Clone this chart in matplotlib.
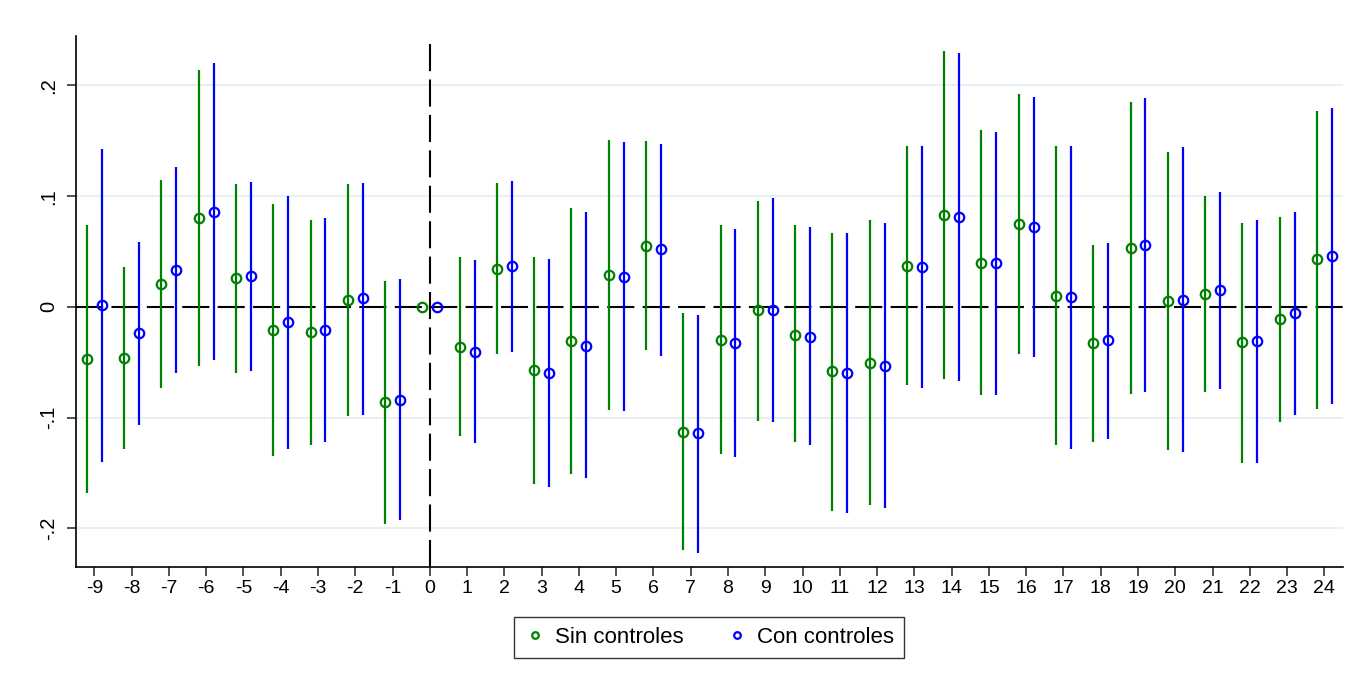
import numpy as np
import matplotlib
matplotlib.use("Agg")
import matplotlib.pyplot as plt

plt.rcParams['font.family'] = ['Liberation Sans', 'DejaVu Sans']

# periodos relativos al evento
periodos = list(range(-9, 25))

# Sin controles: coeficiente, IC inferior, IC superior
sin_coef = [-0.047, -0.046, 0.021, 0.080, 0.026, -0.021, -0.023, 0.006, -0.086, 0.0,
            -0.036, 0.034, -0.057, -0.031, 0.029, 0.055, -0.113, -0.030, -0.003, -0.025,
            -0.058, -0.051, 0.037, 0.083, 0.040, 0.075, 0.010, -0.033, 0.053, 0.005,
            0.012, -0.032, -0.011, 0.043]
sin_lo = [-0.168, -0.128, -0.073, -0.053, -0.060, -0.135, -0.125, -0.099, -0.196, 0.0,
          -0.117, -0.043, -0.160, -0.151, -0.093, -0.039, -0.220, -0.133, -0.103, -0.122,
          -0.184, -0.179, -0.071, -0.065, -0.080, -0.043, -0.125, -0.122, -0.079, -0.129,
          -0.077, -0.141, -0.104, -0.092]
sin_hi = [0.074, 0.036, 0.115, 0.214, 0.111, 0.093, 0.078, 0.111, 0.023, 0.0,
          0.045, 0.112, 0.045, 0.089, 0.151, 0.150, -0.006, 0.074, 0.096, 0.074,
          0.067, 0.078, 0.145, 0.231, 0.160, 0.192, 0.145, 0.056, 0.185, 0.140,
          0.100, 0.076, 0.081, 0.177]

# Con controles
con_coef = [0.002, -0.024, 0.033, 0.086, 0.028, -0.014, -0.021, 0.008, -0.084, 0.0,
            -0.041, 0.037, -0.060, -0.035, 0.027, 0.052, -0.114, -0.033, -0.003, -0.027,
            -0.060, -0.053, 0.036, 0.081, 0.040, 0.072, 0.009, -0.030, 0.056, 0.006,
            0.015, -0.031, -0.006, 0.046]
con_lo = [-0.140, -0.107, -0.060, -0.048, -0.058, -0.128, -0.122, -0.098, -0.193, 0.0,
          -0.123, -0.041, -0.163, -0.155, -0.094, -0.044, -0.222, -0.136, -0.104, -0.125,
          -0.186, -0.182, -0.073, -0.067, -0.080, -0.045, -0.128, -0.119, -0.077, -0.131,
          -0.074, -0.141, -0.098, -0.088]
con_hi = [0.143, 0.059, 0.126, 0.220, 0.113, 0.100, 0.080, 0.112, 0.025, 0.0,
          0.042, 0.114, 0.043, 0.086, 0.149, 0.147, -0.007, 0.070, 0.098, 0.072,
          0.067, 0.076, 0.145, 0.229, 0.158, 0.190, 0.145, 0.058, 0.189, 0.144,
          0.104, 0.078, 0.086, 0.180]

y_ticks = [-0.2, -0.1, 0.0, 0.1, 0.2]
y_labels = ["-.2", "-.1", "0", ".1", ".2"]

verde = "#008000"
azul = "#0000ff"

fig = plt.figure(figsize=(13.61, 6.85), dpi=100)
ax = fig.add_axes([0.0556, 0.1723, 0.9312, 0.7757])

x = np.array(periodos, dtype=float)
xs = x - 0.2
xc = x + 0.2

# rejilla
for yt in y_ticks:
    if yt != 0:
        ax.axhline(yt, color="#e8f0f1", lw=1.5, zorder=0)

# lineas de referencia
ax.axhline(0, color="black", lw=1.5, dashes=(13, 4), zorder=1)
ax.axvline(0, color="black", lw=1.5, dashes=(13, 4), zorder=1)

ax.vlines(xs, sin_lo, sin_hi, color=verde, lw=1.6, zorder=2)
ax.vlines(xc, con_lo, con_hi, color=azul, lw=1.6, zorder=2)
ax.plot(xs, sin_coef, "o", ms=6.8, mfc="none", mec=verde, mew=1.6, zorder=3,
        label="Sin controles")
ax.plot(xc, con_coef, "o", ms=6.8, mfc="none", mec=azul, mew=1.6, zorder=3,
        label="Con controles")

ax.set_xlim(-9.5, 24.5)
ax.set_ylim(-0.235, 0.245)
ax.set_xticks(periodos)
ax.set_xticklabels([str(p) for p in periodos], fontsize=14)
ax.set_yticks(y_ticks)
ax.set_yticklabels(y_labels, fontsize=14.5, rotation=90, va="center")

ax.spines["top"].set_visible(False)
ax.spines["right"].set_visible(False)
ax.spines["left"].set_linewidth(1.2)
ax.spines["bottom"].set_linewidth(1.2)
ax.tick_params(axis="both", direction="out", length=6.5, width=1.2, color="#333333")
ax.tick_params(axis="x", pad=3)
ax.tick_params(axis="y", pad=6)

leg = ax.legend(loc="upper center", bbox_to_anchor=(0.5, -0.073), ncol=2,
                fontsize=16, frameon=True, fancybox=False, edgecolor="black",
                markerscale=0.7, handletextpad=0.4, columnspacing=1.9,
                borderpad=0.45, handlelength=1.0)
leg.get_frame().set_linewidth(1.0)

fig.savefig("out.png", dpi=100, facecolor="white")
